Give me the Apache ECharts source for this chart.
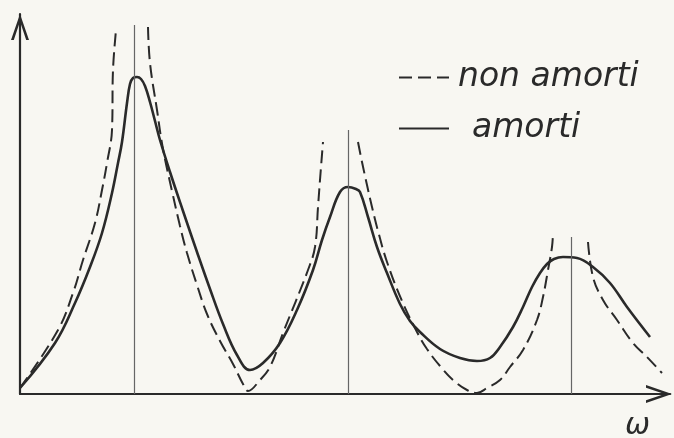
<!DOCTYPE html>
<html>
<head>
<meta charset="utf-8">
<script src="https://cdn.jsdelivr.net/npm/echarts@6/dist/echarts.min.js"></script>
<style>
html,body{margin:0;padding:0;background:#f8f7f2;}
#chart{width:674px;height:438px;}
</style>
</head>
<body>
<div id="chart"></div>
<script>
// Resonance frequencies (vertical guide lines) and their drawn heights
const resonanceOmega = [22.8, 65.6, 110.2];
const resonanceLineTop = [73.8, 52.8, 31.4];

// Damped response ("amorti")
const amortiOmega = [0, 7, 11, 14, 16.4, 18.4, 19.6, 20.4, 21.4, 22, 22.6, 23.4, 24.2, 25, 26, 27, 28, 30, 32.6, 35.4, 38, 40.6, 43.4, 46, 48.6, 52, 55.4, 58.6, 60.4, 62, 64, 65.6, 67.2, 68, 69.6, 71.4, 73.4, 76, 78, 80, 84, 88, 91.4, 94, 96, 98.6, 100.6, 102.4, 104, 105.4, 106.8, 108.6, 111.4, 114.6, 118, 121.4, 126];
const amortiAmp   = [1.2, 10.2, 18.2, 25.4, 32.2, 40.2, 46.2, 50.4, 58.2, 62, 63.2, 63.4, 63, 61.6, 58.4, 54.6, 50.8, 44.4, 36.6, 28.4, 21, 14, 7.8, 4.8, 6.2, 10.2, 16.8, 24.8, 30.8, 35.4, 40.4, 41.4, 41, 40.4, 35.4, 29.4, 24.2, 18, 14.6, 12.4, 9, 7.2, 6.6, 7.2, 9.4, 13.4, 17.4, 21.4, 24.2, 26, 27, 27.4, 27.2, 25.4, 22.2, 17.4, 11.4];

// Undamped response ("non amorti"), null = break at a resonance
const nonAmortiOmega = [0, 7.6, 10.6, 12.6, 15, 16.4, 17.4, 18.4, 18.6, 19.2, null,
  25.6, 26, 27.4, 28.6, 30.4, 32, 33.4, 35.4, 37.4, 40, 42.6, 44.6, 45.6, 48, 50, 52.6, 57.6, 59, 59.6, 60, 60.6, null,
  67.6, 68.4, 69.4, 70.4, 71.6, 73.4, 76.4, 79.4, 81.4, 84, 86.6, 89.4, 91.4, 93.4, 96, 98, 100.6, 103.4, 104.6, 105.6, 106.4, 106.6, null,
  113.6, 114.6, 116.6, 119.4, 122.6, 125.4, 128.4];
const nonAmortiAmp = [1.2, 12.8, 20.2, 26.8, 34.2, 40.8, 46.2, 52.8, 64.8, 72.8, null,
  73.4, 66.2, 56.8, 49, 40.6, 33.6, 28.2, 21.8, 16, 10.6, 6, 2, 0.6, 2.8, 5.4, 12.2, 24.8, 29.4, 37.4, 42.8, 50.4, null,
  50.4, 46.4, 41.8, 37.4, 32.6, 26.4, 18.6, 12.4, 9, 5.6, 2.8, 0.8, 0.2, 1.2, 2.8, 5.4, 8.8, 14.8, 19.4, 24.8, 29.4, 32.2, null,
  30.4, 23.4, 18.8, 14.8, 10.2, 7.4, 4.2];

const seriesNames = ['non amorti', 'amorti'];
const axisName = 'ω';

const toData = (xs, ys) => xs.map((x, i) => (x === null ? ['-', '-'] : [x, ys[i]]));

const ink = '#2a2a2a';
const chevron = 'path://M0,26 L9,0 L18,26 L15.2,26 L9,7.5 L2.8,26 Z';

const chart = echarts.init(document.getElementById('chart'), null, {renderer: 'canvas'});
chart.setOption({
  backgroundColor: '#f8f7f2',
  animation: false,
  grid: {left: 20, top: 14, width: 650, height: 380, containLabel: false},
  legend: {
    left: 393, top: 56, orient: 'vertical',
    itemWidth: 50, itemHeight: 14, itemGap: 18,
    itemStyle: {opacity: 0},
    data: [
      {name: seriesNames[0], textStyle: {padding: [0, 0, 0, 4]}},
      {name: seriesNames[1], textStyle: {padding: [0, 0, 0, 18]}}
    ],
    textStyle: {fontFamily: 'DejaVu Sans', fontStyle: 'italic', fontSize: 33, color: ink}
  },
  xAxis: {
    type: 'value', min: 0, max: 130,
    axisLine: {onZero: false, symbol: ['none', chevron], symbolSize: [18, 26], symbolOffset: [0, -11], lineStyle: {color: ink, width: 2.2}},
    axisTick: {show: false}, axisLabel: {show: false}, splitLine: {show: false}
  },
  yAxis: {
    type: 'value', min: 0, max: 76,
    axisLine: {onZero: false, symbol: ['none', chevron], symbolSize: [18, 26], symbolOffset: [0, -13], lineStyle: {color: ink, width: 2.2}},
    axisTick: {show: false}, axisLabel: {show: false}, splitLine: {show: false}
  },
  graphic: [{
    type: 'text', left: 625, top: 411,
    style: {text: axisName, fontFamily: 'DejaVu Sans', fontStyle: 'italic', fontSize: 30, fill: ink}
  }],
  series: [
    {
      name: seriesNames[0], type: 'line', data: toData(nonAmortiOmega, nonAmortiAmp),
      showSymbol: false, symbol: 'none', smooth: 0.4, connectNulls: false,
      lineStyle: {color: ink, width: 2, type: [13, 6]}, itemStyle: {color: ink}
    },
    {
      name: seriesNames[1], type: 'line', data: toData(amortiOmega, amortiAmp),
      showSymbol: false, symbol: 'none', smooth: 0.4,
      lineStyle: {color: ink, width: 2.6}, itemStyle: {color: ink},
      markLine: {
        silent: true, symbol: 'none', label: {show: false},
        lineStyle: {color: '#666', width: 1.2, type: 'solid'},
        data: resonanceOmega.map((w, i) => [{coord: [w, 0]}, {coord: [w, resonanceLineTop[i]]}])
      }
    }
  ]
});
</script>
</body>
</html>
